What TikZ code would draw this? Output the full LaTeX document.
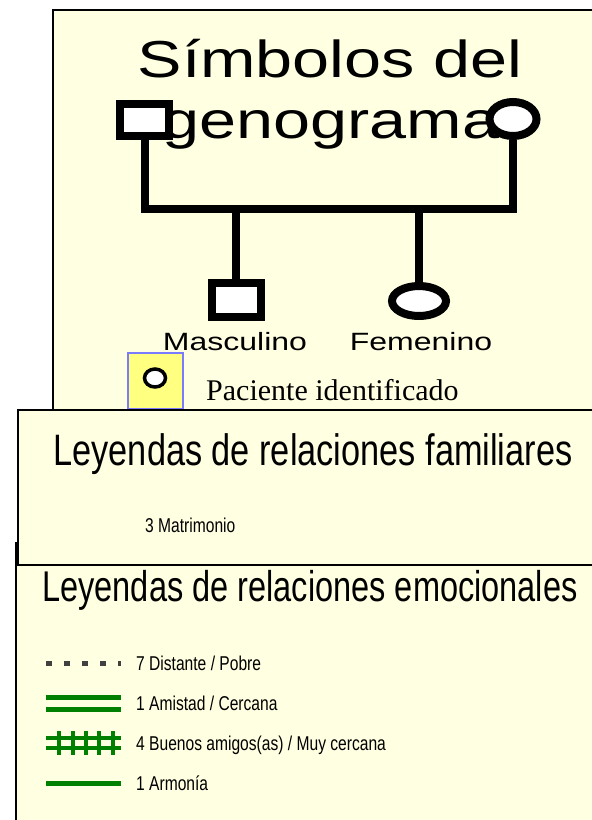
\documentclass[tikz,border=0pt]{standalone}
\usepackage{fontspec}
\setmainfont{Liberation Serif}
\newfontfamily\widesans[FakeStretch=1.28]{Liberation Sans}
\newfontfamily\narrowsans[FakeStretch=0.78]{Liberation Sans}
\usetikzlibrary{shapes.geometric}
\definecolor{panelbg}{HTML}{FFFFE1}
\definecolor{piboxfill}{HTML}{FFFF80}
\definecolor{piboxedge}{HTML}{7B7BFF}
\definecolor{relgreen}{HTML}{008000}
\definecolor{distgray}{HTML}{404040}
\tikzset{
  panel/.style={draw=black,line width=1.5pt,fill=panelbg},
  kinline/.style={line width=8pt,line join=miter},
  male/.style={draw,fill=white,line width=8pt,minimum width=49pt,minimum height=32pt,inner sep=0pt},
  female/.style={ellipse,draw,fill=white,line width=8pt,inner sep=0pt},
  bigtitle/.style={anchor=base,inner sep=0pt,font=\widesans\fontsize{52}{60}\selectfont},
  kinlabel/.style={anchor=base,inner sep=0pt,font=\widesans\fontsize{25}{30}\selectfont},
  leghead/.style={anchor=base,inner sep=0pt,font=\narrowsans\fontsize{44}{52}\selectfont},
  legtext/.style={anchor=base west,inner sep=0pt,font=\narrowsans\fontsize{20}{24}\selectfont},
  legline/.style={relgreen,line width=5pt}
}
\begin{document}
\begin{tikzpicture}[x=1pt,y=-1pt]
\useasboundingbox (0,0) rectangle (592,820);
\clip (0,0) rectangle (592,820);
\draw[panel] (53,10) rectangle (620,500);
\node[bigtitle] (title1) at (330,77) {Símbolos del};
\node[bigtitle] (title2) at (331,138) {genograma};
\node[male] (father) at (144.5,120) {};
\node[female,minimum width=47pt,minimum height=34pt] (mother) at (513,119) {};
\node[male,minimum height=34pt] (son) at (236,300) {};
\node[female,minimum width=54pt,minimum height=30pt] (daughter) at (419,301) {};
\coordinate (sibs) at (0,209);
\draw[kinline] (father.south) -- (father |- sibs) -- (mother |- sibs) -- (mother.south);
\draw[kinline] (son |- sibs) -- (son.north);
\draw[kinline] (daughter |- sibs) -- (daughter.north);
\node[kinlabel] (masc) at (235,350) {Masculino};
\node[kinlabel] (fem) at (421,350) {Femenino};
\node[draw=piboxedge,fill=piboxfill,line width=2.5pt,minimum width=55pt,minimum height=56pt,inner sep=0pt] (pibox) at (155.5,381) {};
\node[ellipse,draw,fill=white,line width=3.5pt,minimum width=21pt,minimum height=18pt,inner sep=0pt] (pimark) at (155,378) {};
\node[anchor=base west,inner sep=0pt,font=\fontsize{30}{36}\selectfont] (pilabel) at (206,400) {Paciente identificado};
\draw[panel] (16,543) rectangle (620,860);
\draw[panel] (18,410) rectangle (620,565);
\node[leghead] (famhead) at (313,465) {Leyendas de relaciones familiares};
\node[legtext] (matri) at (145,532) {3 Matrimonio};
\node[leghead,font=\narrowsans\fontsize{43}{50}\selectfont,xscale=0.97] (emohead) at (310,601) {Leyendas de relaciones emocionales};
\draw[distgray,line width=5pt,dash pattern=on 6pt off 12pt] (46,663) -- (121,663);
\node[legtext] (distant) at (136,670) {7 Distante / Pobre};
\draw[legline] (46,697) -- (121,697);
\draw[legline] (46,709) -- (121,709);
\node[legtext] (close) at (136,710) {1 Amistad / Cercana};
\draw[legline,line width=4pt] (46,738) -- (121,738);
\draw[legline,line width=4pt] (46,748) -- (121,748);
\foreach \x in {59,73,86,99,113}
  \draw[legline,line width=4pt] (\x,731) -- (\x,755);
\node[legtext] (veryclose) at (136,750) {4 Buenos amigos(as) / Muy cercana};
\draw[legline] (46,783) -- (121,783);
\node[legtext] (harmony) at (136,790) {1 Armonía};
\end{tikzpicture}
\end{document}
